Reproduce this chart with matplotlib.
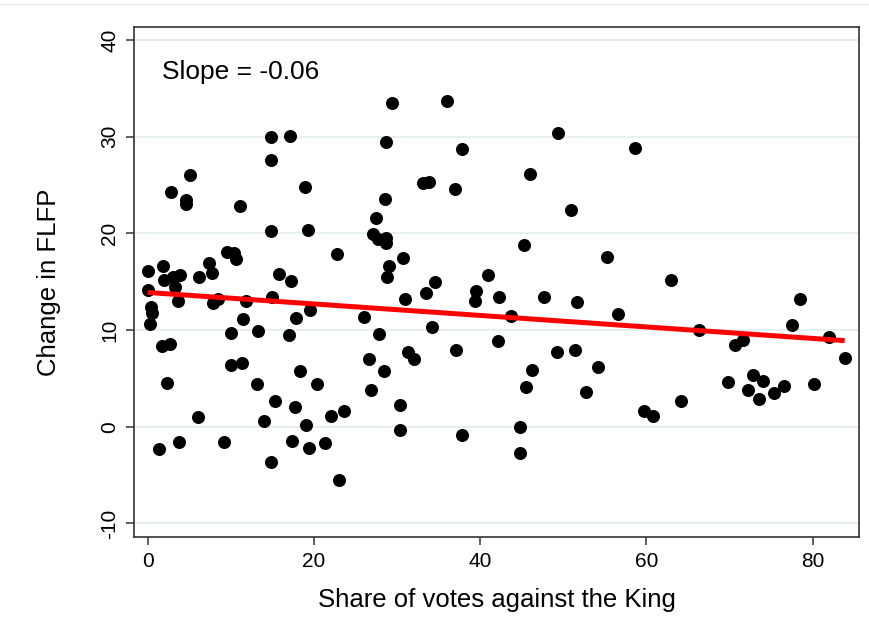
import numpy as np
import matplotlib
matplotlib.use("Agg")
import matplotlib.pyplot as plt
from matplotlib.lines import Line2D

# share of votes against the King (x) and change in FLFP (y)
share_votes = [
    14.80, 17.16, 14.80, 5.09, 2.80, 4.57, 4.61, 11.11, 18.93, 14.87,
    19.29, 22.82, 9.51, 10.42, 10.63, 7.38, 1.84, 0.00, 7.77, 3.89,
    6.21, 3.08, 2.00, 3.25, 15.76, 17.28, 0.00, 14.96, 3.61, 8.50,
    7.89, 11.83, 0.36, 0.52, 0.28, 19.57, 17.85, 11.43, 10.02, 13.27,
    17.04, 1.68, 2.72, 9.99, 11.35, 18.29, 2.29, 13.19, 20.41, 15.32,
    17.76, 6.09, 13.96, 19.05, 22.09, 23.66, 1.40, 3.73, 9.15, 17.40,
    19.45, 21.30, 14.87, 22.98, 29.36, 35.98, 49.41, 28.68, 37.82, 46.04,
    33.16, 33.89, 37.02, 28.52, 50.94, 27.47, 27.15, 27.68, 28.64, 28.64,
    45.32, 30.76, 29.07, 28.80, 40.99, 34.54, 33.45, 39.51, 39.42, 42.31,
    47.69, 31.00, 26.03, 43.68, 27.87, 34.18, 42.19, 26.67, 31.29, 32.05,
    37.06, 49.29, 28.44, 46.21, 26.84, 45.49, 30.40, 30.36, 37.86, 44.84,
    44.84, 58.68, 55.31, 62.94, 51.70, 56.59, 78.50, 77.57, 66.38, 82.02,
    70.67, 71.67, 83.87, 51.38, 54.22, 52.74, 69.87, 72.88, 74.01, 72.27,
    73.60, 75.37, 76.57, 80.18, 64.21, 59.72, 60.77,
]
change_flfp = [
    30.00, 30.07, 27.59, 26.04, 24.28, 23.45, 23.01, 22.83, 24.76, 20.28,
    20.35, 17.90, 18.04, 17.94, 17.38, 16.96, 16.62, 16.08, 15.87, 15.66,
    15.52, 15.45, 15.14, 14.48, 15.83, 15.07, 14.11, 13.45, 13.03, 13.21,
    12.83, 13.00, 12.41, 11.79, 10.59, 12.07, 11.21, 11.11, 9.66, 9.93,
    9.52, 8.38, 8.52, 6.38, 6.56, 5.79, 4.52, 4.42, 4.42, 2.63,
    2.01, 0.97, 0.59, 0.18, 1.14, 1.66, -2.28, -1.58, -1.55, -1.48,
    -2.20, -1.69, -3.65, -5.51, 33.52, 33.66, 30.41, 29.45, 28.76, 26.14,
    25.21, 25.28, 24.56, 23.52, 22.39, 21.59, 19.90, 19.39, 19.55, 18.97,
    18.80, 17.45, 16.65, 15.45, 15.72, 14.94, 13.80, 14.07, 13.03, 13.39,
    13.42, 13.18, 11.32, 11.48, 9.62, 10.28, 8.90, 7.03, 7.76, 6.97,
    7.97, 7.70, 5.79, 5.90, 3.80, 4.08, 2.21, -0.34, -0.86, 0.00,
    -2.75, 28.80, 17.59, 15.18, 12.90, 11.66, 13.18, 10.49, 10.00, 9.31,
    8.45, 8.97, 7.11, 7.93, 6.14, 3.62, 4.66, 5.35, 4.73, 3.80,
    2.90, 3.46, 4.24, 4.45, 2.69, 1.59, 1.14,
]

# linear fit as shown on the chart
fit_intercept = 13.88
fit_slope = -0.0594

x_ticks = [0, 20, 40, 60, 80]
y_ticks = [-10, 0, 10, 20, 30, 40]

plt.rcParams['font.family'] = ['Liberation Sans', 'DejaVu Sans']
plt.rcParams['axes.unicode_minus'] = False

fig = plt.figure(figsize=(8.7, 6.35), dpi=100)
ax = fig.add_axes([0.1544, 0.1543, 0.8330, 0.8027])

ax.set_xlim(-1.61, 85.6)
ax.set_ylim(-11.41, 41.3)
ax.set_xticks(x_ticks)
ax.set_yticks(y_ticks)
ax.grid(axis='y', color='#e4eef1', linewidth=1.3)
ax.set_axisbelow(True)

ax.scatter(share_votes, change_flfp, s=88, color='black', linewidths=0, zorder=2)

xs = np.array([min(share_votes), max(share_votes)])
ax.plot(xs, fit_intercept + fit_slope * xs, color='#ff0000', linewidth=3.6, zorder=3,
        solid_capstyle='butt')

ax.text(1.72, 36.7, 'Slope = -0.06', fontsize=19, va='center', ha='left')

for s in ax.spines.values():
    s.set_color('#333333')
    s.set_linewidth(1.2)
ax.tick_params(axis='both', length=6, width=1.1, color='#333333', labelsize=15, pad=5)
ax.tick_params(axis='y', labelrotation=90)
for lab in ax.get_yticklabels():
    lab.set_va('center')

ax.set_xlabel('Share of votes against the King', fontsize=18.5, labelpad=12)
ax.set_ylabel('Change in FLFP', fontsize=18.5, labelpad=28)

# faint frame line at the top of the image
fig.add_artist(Line2D([0, 1], [1 - 4 / 635, 1 - 4 / 635], transform=fig.transFigure,
                      color='#eeeeee', linewidth=1))

fig.savefig('out.png', dpi=100)
